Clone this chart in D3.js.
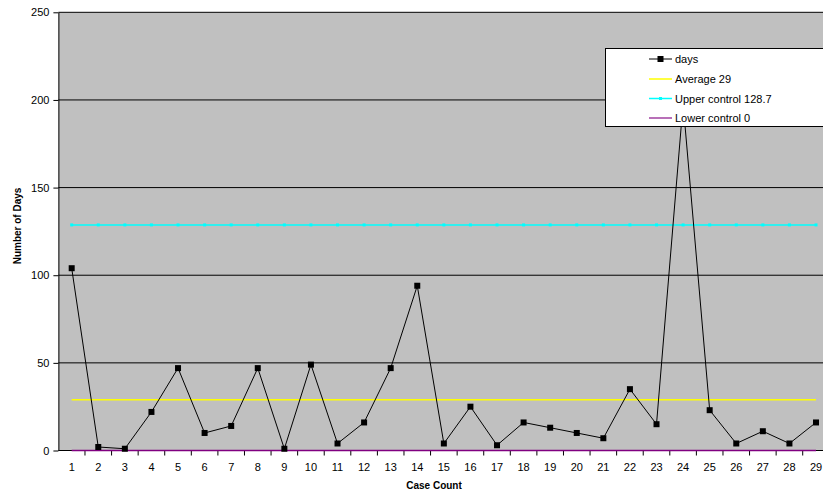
<!DOCTYPE html>
<html>
<head>
<meta charset="utf-8">
<script src="https://cdn.jsdelivr.net/npm/d3@7"></script>
<style>
  html, body { margin: 0; padding: 0; background: #fff; overflow: hidden; }
  svg { display: block; }
</style>
</head>
<body>
<svg id="chart" width="823" height="497"></svg>
<script>
// ---- data ----
const categories = ["1","2","3","4","5","6","7","8","9","10","11","12","13","14","15","16","17","18","19","20","21","22","23","24","25","26","27","28","29"];
const days = [104, 2, 1, 22, 47, 10, 14, 47, 1, 49, 4, 16, 47, 94, 4, 25, 3, 16, 13, 10, 7, 35, 15, 198, 23, 4, 11, 4, 16];
const averageValue = 29;
const upperControl = 128.7;
const lowerControl = 0;
const yTicks = [0, 50, 100, 150, 200, 250];
const legendLabels = ["days", "Average 29", "Upper control 128.7", "Lower control 0"];
const yTitle = "Number of Days";
const xTitle = "Case Count";

// ---- layout ----
const svg = d3.select("#chart");
const plot = { left: 58.4, right: 829.3, top: 12.3, bottom: 450.5 };
const font = "Liberation Sans, Arial, sans-serif";

const x = d3.scaleBand().domain(categories).range([plot.left, plot.right]).padding(0);
const y = d3.scaleLinear().domain([0, 250]).range([plot.bottom, plot.top]);
const cx = c => x(c) + x.bandwidth() / 2;

// plot background
svg.append("rect")
  .attr("x", plot.left).attr("y", plot.top)
  .attr("width", plot.right - plot.left).attr("height", plot.bottom - plot.top)
  .attr("fill", "#c0c0c0");

// gridlines
svg.append("g").selectAll("line").data(yTicks.filter(d => d > 0)).join("line")
  .attr("x1", plot.left).attr("x2", plot.right)
  .attr("y1", d => y(d)).attr("y2", d => y(d))
  .attr("stroke", "#000").attr("stroke-width", 1);

// y axis
const yAxis = d3.axisLeft(y).tickValues(yTicks).tickSizeInner(5).tickSizeOuter(0).tickPadding(4);
const gy = svg.append("g").attr("transform", `translate(${plot.left},0)`).call(yAxis);
gy.select(".domain").attr("stroke", "#000");
gy.selectAll(".tick line").attr("stroke", "#000");
gy.selectAll(".tick text").attr("font-family", font).attr("font-size", 11).attr("fill", "#000");

// x axis with ticks between categories
const gx = svg.append("g").attr("transform", `translate(0,${plot.bottom})`);
gx.append("line").attr("x1", plot.left).attr("x2", plot.right).attr("y1", 0).attr("y2", 0).attr("stroke", "#000");
gx.selectAll("line.tk").data(categories).join("line").attr("class", "tk")
  .attr("x1", d => x(d) + x.bandwidth()).attr("x2", d => x(d) + x.bandwidth())
  .attr("y1", 0).attr("y2", 5).attr("stroke", "#000");
gx.selectAll("text").data(categories).join("text")
  .attr("x", d => cx(d)).attr("y", 20)
  .attr("text-anchor", "middle")
  .attr("font-family", font).attr("font-size", 11).attr("fill", "#000")
  .text(d => d);

// axis titles
svg.append("text")
  .attr("transform", "translate(21,226) rotate(-90)")
  .attr("text-anchor", "middle")
  .attr("font-family", font).attr("font-size", 10).attr("font-weight", "bold")
  .text(yTitle);
svg.append("text")
  .attr("x", 434).attr("y", 489)
  .attr("text-anchor", "middle")
  .attr("font-family", font).attr("font-size", 10).attr("font-weight", "bold")
  .text(xTitle);

// reference lines
const first = categories[0], last = categories[categories.length - 1];
svg.append("line")
  .attr("x1", cx(first)).attr("x2", cx(last))
  .attr("y1", y(averageValue)).attr("y2", y(averageValue))
  .attr("stroke", "#ffff00").attr("stroke-width", 1.5);
svg.append("line")
  .attr("x1", cx(first)).attr("x2", cx(last))
  .attr("y1", y(upperControl)).attr("y2", y(upperControl))
  .attr("stroke", "#00ffff").attr("stroke-width", 1.5);
svg.append("g").selectAll("rect").data(categories).join("rect")
  .attr("x", d => cx(d) - 1.5).attr("y", y(upperControl) - 1.5)
  .attr("width", 3).attr("height", 3).attr("fill", "#00ffff");
svg.append("line")
  .attr("x1", cx(first)).attr("x2", cx(last))
  .attr("y1", y(lowerControl)).attr("y2", y(lowerControl))
  .attr("stroke", "#800080").attr("stroke-width", 1.5);

// days series
const line = d3.line().x((d, i) => cx(categories[i])).y(d => y(d));
svg.append("path").datum(days)
  .attr("d", line).attr("fill", "none").attr("stroke", "#000").attr("stroke-width", 1);
svg.append("g").selectAll("rect").data(days).join("rect")
  .attr("x", (d, i) => cx(categories[i]) - 3).attr("y", d => y(d) - 3)
  .attr("width", 6).attr("height", 6).attr("fill", "#000");

// legend
const lg = svg.append("g");
lg.append("rect")
  .attr("x", 605.5).attr("y", 48.5).attr("width", 230).attr("height", 78)
  .attr("fill", "#fff").attr("stroke", "#000").attr("stroke-width", 1);
const legendColors = ["#000", "#ffff00", "#00ffff", "#a040a0"];
const rowY = [59, 79, 98.5, 118];
legendLabels.forEach((lab, i) => {
  lg.append("line").attr("x1", 649).attr("x2", 672).attr("y1", rowY[i]).attr("y2", rowY[i])
    .attr("stroke", legendColors[i]).attr("stroke-width", i === 0 ? 1 : 1.5);
  if (i === 0) lg.append("rect").attr("x", 657.5).attr("y", rowY[i] - 3).attr("width", 6).attr("height", 6).attr("fill", "#000");
  if (i === 2) lg.append("rect").attr("x", 659).attr("y", rowY[i] - 1.5).attr("width", 3).attr("height", 3).attr("fill", "#00ffff");
  lg.append("text").attr("x", 675).attr("y", rowY[i] + 4)
    .attr("font-family", font).attr("font-size", 11).attr("fill", "#000")
    .text(lab);
});
</script>
</body>
</html>
